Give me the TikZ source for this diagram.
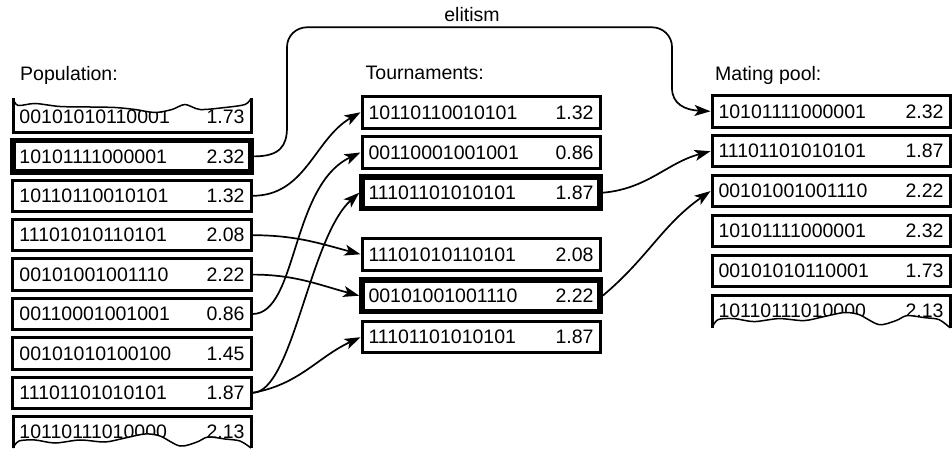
\documentclass[tikz,border=0pt]{standalone}
\usepackage{fontspec}
\setmainfont{Liberation Sans}
\usetikzlibrary{arrows.meta}
% one row of a table: chromosome on the left, fitness on the right
\newcommand\rowtext[2]{\hbox to 225bp{#1\hfill #2}}
\begin{document}
\begin{tikzpicture}[x=1bp,y=1bp,
  font=\fontsize{19.5bp}{23bp}\selectfont,
  rowbox/.style={draw, line width=3bp, minimum width=238bp, minimum height=31.5bp, inner sep=0pt},
  elite/.style={line width=5.5bp},
  openbox/.style={minimum width=238bp, minimum height=31.5bp, inner sep=0pt},
  heading/.style={anchor=base west, inner sep=0pt},
  conn/.style={line width=1.7bp, -{Stealth[length=16bp,width=11bp,inset=4bp]}},
  tear/.style={line width=1.5bp},
  side/.style={line width=3bp}]
\useasboundingbox (0,0) rectangle (952,-450);

% column headings
\node[heading] (hpop) at (20,-80.7) {Population:};
\node[heading] (htour) at (365.5,-80) {Tournaments:};
\node[heading] (hmate) at (715,-81) {Mating pool:};
\node[anchor=base, inner sep=0pt] (helite) at (472,-21.7) {elitism};

% population
\node[openbox] (L1) at (132,-116.5) {\rowtext{00101010110001}{1.73}};
\node[rowbox,elite] (L2) at (132,-156.4) {\rowtext{10101111000001}{2.32}};
\node[rowbox] (L3) at (132,-195.8) {\rowtext{10110110010101}{1.32}};
\node[rowbox] (L4) at (132,-235.2) {\rowtext{11101010110101}{2.08}};
\node[rowbox] (L5) at (132,-274.6) {\rowtext{00101001001110}{2.22}};
\node[rowbox] (L6) at (132,-314) {\rowtext{00110001001001}{0.86}};
\node[rowbox] (L7) at (132,-353.4) {\rowtext{00101010100100}{1.45}};
\node[rowbox] (L8) at (132,-392.8) {\rowtext{11101101010101}{1.87}};
\node[openbox] (L9) at (132,-432.2) {\rowtext{10110111010000}{2.13}};

% tournaments
\node[rowbox] (M1) at (481,-112.3) {\rowtext{10110110010101}{1.32}};
\node[rowbox] (M2) at (481,-152.5) {\rowtext{00110001001001}{0.86}};
\node[rowbox,elite] (M3) at (481,-192.7) {\rowtext{11101101010101}{1.87}};
\node[rowbox] (M4) at (481,-254.3) {\rowtext{11101010110101}{2.08}};
\node[rowbox,elite] (M5) at (481,-295.7) {\rowtext{00101001001110}{2.22}};
\node[rowbox] (M6) at (481,-337.2) {\rowtext{11101101010101}{1.87}};

% mating pool
\node[rowbox] (R1) at (831,-111.3) {\rowtext{10101111000001}{2.32}};
\node[rowbox] (R2) at (831,-151.2) {\rowtext{11101101010101}{1.87}};
\node[rowbox] (R3) at (831,-191.1) {\rowtext{00101001001110}{2.22}};
\node[rowbox] (R4) at (831,-231) {\rowtext{10101111000001}{2.32}};
\node[rowbox] (R5) at (831,-270.9) {\rowtext{00101010110001}{1.73}};
\node[openbox] (R6) at (831,-310.8) {\rowtext{10110111010000}{2.13}};

% torn top edge of the first population row
\begin{scope}[shift={(L1.center)}]
  \fill[white] plot[smooth] coordinates {(-119,18) (-114,11) (-97,13) (-72,10) (-42,9.5) (-17,9) (3,7) (23,4) (40,7) (53,12) (68,7) (93,9) (113,12) (119,18)}
    -- (119,27) -- (-119,27) -- cycle;
  \draw[side] (-119,18) -- (-119,-15.75) -- (119,-15.75) -- (119,18);
  \draw[tear] plot[smooth] coordinates {(-119,18) (-114,11) (-97,13) (-72,10) (-42,9.5) (-17,9) (3,7) (23,4) (40,7) (53,12) (68,7) (93,9) (113,12) (119,18)};
\end{scope}

% torn bottom edges of the last rows
\foreach \n/\low in {L9/-15.8, R6/-17} {
  \begin{scope}[shift={(\n.center)}]
    \fill[white] plot[smooth] coordinates {(-119,\low) (-113,-8.8) (-97,-7.8) (-77,-10.8) (-52,-7.8) (-27,-9.8) (-7,-5.8) (13,-1.8) (28,-3.8) (48,-13.8) (65,-9.8) (76,-4.8) (93,-6.8) (108,-8.8) (119,\low)}
      -- (119,-25) -- (-119,-25) -- cycle;
    \draw[side] (-119,\low) -- (-119,15.75) -- (119,15.75) -- (119,\low);
    \draw[tear] plot[smooth] coordinates {(-119,\low) (-113,-8.8) (-97,-7.8) (-77,-10.8) (-52,-7.8) (-27,-9.8) (-7,-5.8) (13,-1.8) (28,-3.8) (48,-13.8) (65,-9.8) (76,-4.8) (93,-6.8) (108,-8.8) (119,\low)};
  \end{scope}
}

% elitism: best individual copied straight into the mating pool
\draw[conn] (L2.east) .. controls (280,-156.4) and (287,-146) .. (287,-127)
  -- (287,-47) .. controls (287,-36) and (296,-27.3) .. (307,-27.3)
  -- (652,-27.3) .. controls (663,-27.3) and (672,-36) .. (672,-47)
  -- (672,-88) .. controls (672,-104) and (685,-110) .. (R1.west);

% selection into tournaments
\draw[conn] (L3.east) to[out=0,in=210] (M1.west);
\draw[conn] (L6.east) .. controls +(45,0) and +(-70,-33) .. (M2.west);
\draw[conn] (L8.east) .. controls +(40,0) and +(-50,-45) .. (M3.west);
\draw[conn] (L8.east) to[out=10,in=205] (M6.west);
\draw[conn] (L4.east) to[out=0,in=165] (M4.west);
\draw[conn] (L5.east) to[out=0,in=165] (M5.west);

% tournament winners
\draw[conn] (M3.east) to[out=5,in=195] (R2.west);
\draw[conn] (M5.east) to[out=40,in=215] (R3.west);
\end{tikzpicture}
\end{document}
